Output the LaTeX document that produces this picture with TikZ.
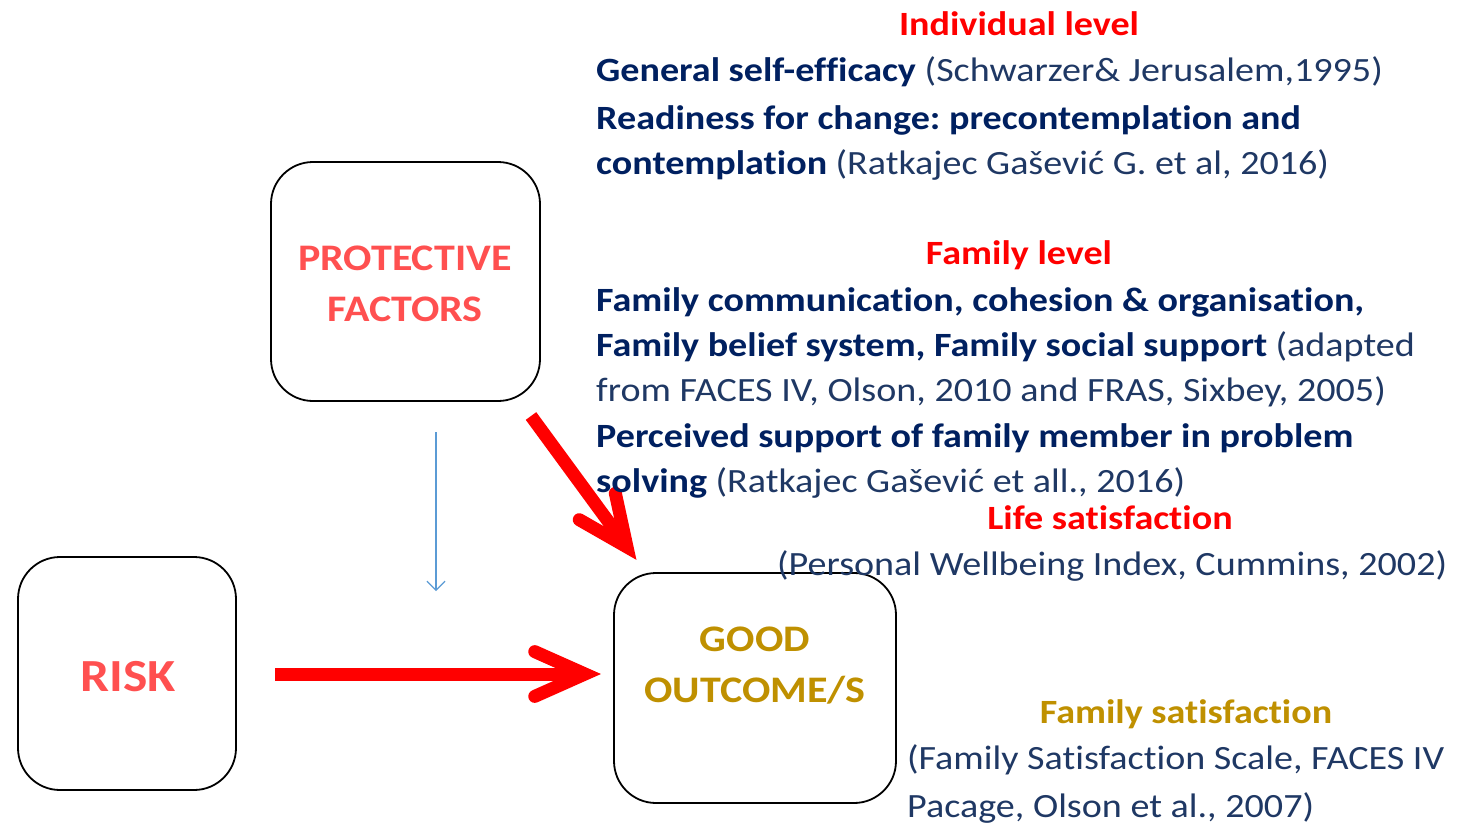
\documentclass[tikz,border=0pt]{standalone}
\usepackage{fontspec}
\setmainfont[FakeStretch=1.12, Ligatures=NoCommon]{Carlito}
\usetikzlibrary{calc,arrows.meta}
\frenchspacing
\definecolor{navyb}{HTML}{002060}
\definecolor{navyn}{HTML}{1F3864}
\definecolor{salmon}{HTML}{FF5050}
\definecolor{gold}{HTML}{BF9000}
\definecolor{bluear}{HTML}{5B9BD5}
\definecolor{redar}{HTML}{FF0000}
\tikzset{
  box/.style={draw=black, line width=1.8pt, rounded corners=42pt},
  txt/.style={inner sep=0pt, anchor=base west, font=\fontsize{34}{40}\selectfont, text=navyn},
  head/.style={inner sep=0pt, anchor=base, font=\fontsize{34}{40}\selectfont\bfseries, text=redar},
  lbl/.style={inner sep=0pt, align=center, font=\fontsize{37.5}{51}\selectfont\bfseries},
  redshaft/.style={draw=redar, line width=13pt},
  redhead/.style={draw=redar, line width=13pt, line cap=round, line join=miter},
  bluearrow/.style={draw=bluear, line width=1.2pt, -{Straight Barb[length=9pt,width=18pt]}}
}
\begin{document}
\begin{tikzpicture}[x=1pt,y=-1pt]
\useasboundingbox (0,0) rectangle (1464,825);
% boxes
\node[box, minimum width=269pt, minimum height=239pt] (prot) at (405.5,281.5) {};
\node[lbl, text=salmon] (protlbl) at (405,284) {PROTECTIVE\\FACTORS};
\node[box, minimum width=218pt, minimum height=233pt] (risk) at (127,673.5) {};
\node[lbl, text=salmon, font=\fontsize{46}{52}\selectfont\bfseries] (risklbl) at (128,677) {RISK};
\node[box, minimum width=282pt, minimum height=230pt] (good) at (755,688) {};
\node[lbl, text=gold] (goodlbl) at (755,666) {GOOD\\OUTCOME/S};
% arrows
\coordinate (hs) at (275,674);
\coordinate (ht) at (585,674);
\draw[redshaft] (hs) -- (ht);
\draw[redhead] ($(ht)!55pt!24:(hs)$) -- (ht) -- ($(ht)!55pt!-24:(hs)$);
\coordinate (ds) at (531,416);
\coordinate (dt) at (627,547);
\draw[redshaft] (ds) -- (dt);
\draw[redhead] ($(dt)!55pt!24:(ds)$) -- (dt) -- ($(dt)!55pt!-24:(ds)$);
\coordinate (bs) at (436,432);
\coordinate (bt) at (436,591);
\draw[bluearrow] (bs) -- (bt);
% individual level
\node[head] (h1) at (1019,35) {Individual level};
\node[txt] (t1) at (596,81) {\textbf{\color{navyb}General self-efficacy} (Schwarzer\& Jerusalem,1995)};
\node[txt] (t2) at (596,129) {\textbf{\color{navyb}Readiness for change: precontemplation and}};
\node[txt] (t3) at (596,174) {\textbf{\color{navyb}contemplation} (Ratkajec Gašević G. et al, 2016)};
% family level
\node[head] (h2) at (1019,264) {Family level};
\node[txt] (t4) at (596,311) {\textbf{\color{navyb}Family communication, cohesion \& organisation,}};
\node[txt] (t5) at (596,356) {\textbf{\color{navyb}Family belief system, Family social support} (adapted};
\node[txt] (t6) at (596,401) {from FACES IV, Olson, 2010 and FRAS, Sixbey, 2005)};
\node[txt] (t7) at (596,447) {\textbf{\color{navyb}Perceived support of family member in problem}};
\node[txt] (t8) at (596,492) {\textbf{\color{navyb}solving} (Ratkajec Gašević et all., 2016)};
% life satisfaction
\node[head] (h3) at (1110,529) {Life satisfaction};
\node[txt] (t9) at (777,575) {(Personal Wellbeing Index, Cummins, 2002)};
% family satisfaction
\node[head, text=gold] (h4) at (1186,723) {Family satisfaction};
\node[txt] (t10) at (907,769) {(Family Satisfaction Scale, FACES IV};
\node[txt] (t11) at (907,817) {Pacage, Olson et al., 2007)};
\end{tikzpicture}
\end{document}
